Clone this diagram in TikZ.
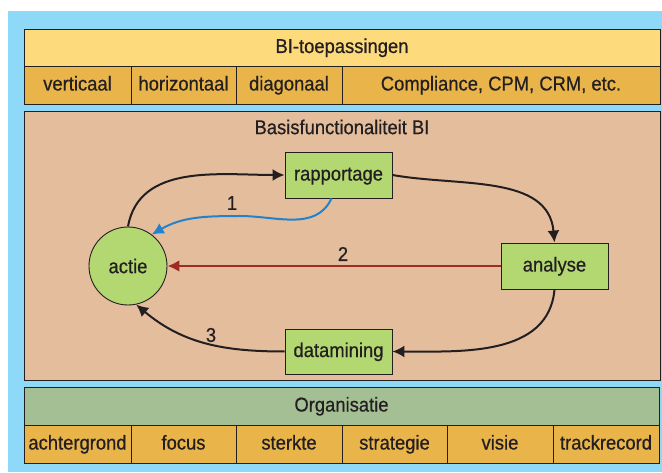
\documentclass[tikz,border=0pt]{standalone}
\usepackage{fontspec}
\setmainfont[FakeStretch=0.92,FakeBold=0.6]{Liberation Sans}
\usepackage{tikz}
\usetikzlibrary{%
	arrows.meta,%
	shapes
}

\definecolor{skyblue}{HTML}{8ED8F8}
\definecolor{titleyellow}{HTML}{FDDA7B}
\definecolor{cellorange}{HTML}{E9B54A}
\definecolor{peach}{HTML}{E4BD9D}
\definecolor{nodegreen}{HTML}{B3D771}
\definecolor{orggreen}{HTML}{A4BF94}
\definecolor{arrowblue}{HTML}{2283CC}
\definecolor{arrowred}{HTML}{9E2B25}
\definecolor{textgray}{HTML}{231F20}

\tikzset{
	layer/.style={draw=textgray, line width=0.9pt, inner sep=0pt, minimum height=38pt, text height=15pt, text depth=4pt},
	cell/.style={layer, fill=cellorange},
	stepnode/.style={draw=textgray, line width=0.9pt, fill=nodegreen, minimum width=107pt, minimum height=46pt, inner sep=0pt, text height=15pt, text depth=4pt},
	flow/.style={-{Latex[length=12pt,width=12pt]}, line width=2pt, draw=textgray}
}

\begin{document}
\begin{tikzpicture}[x=1pt, y=1pt, font=\fontsize{20}{24}\selectfont, text=textgray]
				% Frame
				\useasboundingbox (0,0) rectangle (662,472);
				\fill[skyblue] (8,0) rectangle (662,461);
				
				% BI-toepassingen
				\node[layer, fill=titleyellow, minimum width=636pt, minimum height=37pt] (toepassingen) at (342,424.5) {BI-toepassingen};
				\foreach \name/\cx/\w/\txt in {verticaal/77.5/107/verticaal, horizontaal/183.5/105/horizontaal, diagonaal/289/106/diagonaal, compliance/501/318/{Compliance, CPM, CRM, etc.}}
				\node[cell, minimum width=\w pt] (\name) at (\cx,387) {\txt};
				
				% Basisfunctionaliteit
				\node[layer, fill=peach, minimum width=636pt, minimum height=269pt] (basis) at (342,226.5) {};
				\node (basistitel) at (342,345) {Basisfunctionaliteit BI};
				
				% Nodes
				\node[stepnode] (rapportage) at (338.5,297) {rapportage};
				\node[stepnode] (analyse) at (554.5,206) {analyse};
				\node[stepnode, minimum height=45pt] (datamining) at (338.5,120.5) {datamining};
				\node[circle, draw=textgray, line width=0.9pt, fill=nodegreen, minimum size=78pt, inner sep=0pt] (actie) at (128,206) {actie};
				
				% Loop
				\draw[flow] (actie.north) to[out=80, in=180] (rapportage.west);
				\draw[flow] (rapportage.east) to[out=-10, in=95] (analyse.north);
				\draw[flow] (analyse.south) to[out=-95, in=0] (datamining.east);
				\draw[flow] (datamining.west) to[out=180, in=-40] (actie.-78);
				
				% Feedback
				\coordinate (golf) at (240,256);
				\draw[flow, draw=arrowblue] ([xshift=-7pt]rapportage.south) to[out=-115, in=0] (golf) to[out=180, in=30] (actie.53);
				\draw[flow, draw=arrowred, line width=2.4pt] (analyse.west) -- (actie.east);
				
				% Labels
				\node (een) at (232,269) {1};
				\node (twee) at (343,218) {2};
				\node (drie) at (211,137) {3};
				
				% Organisatie
				\node[layer, fill=orggreen, minimum width=635pt] (organisatie) at (341.5,66) {Organisatie};
				\foreach \name/\cx/\w in {achtergrond/77.5/107, focus/183.5/105, sterkte/289/106, strategie/394.5/105, visie/500/106, trackrecord/606/106}
				\node[cell, minimum width=\w pt] (\name) at (\cx,28) {\name};
			\end{tikzpicture}
\end{document}
